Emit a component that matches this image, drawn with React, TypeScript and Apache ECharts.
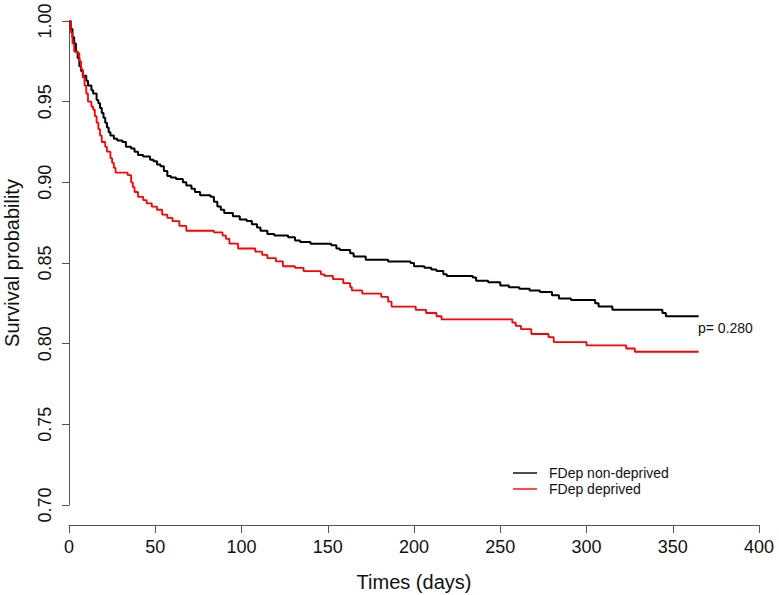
import React, { useEffect, useRef } from "react";
import * as echarts from "echarts";

// Kaplan-Meier step points (days, survival probability)
const nonDeprivedTimes = [0, 1, 2, 3, 4, 5, 6, 7, 8, 10, 11, 13, 14, 16, 17, 18, 19, 20, 21, 22, 23, 24, 26, 28, 31, 33, 36, 38, 40, 43, 47, 49, 51, 53, 55, 57, 59, 62, 66, 68, 71, 73, 76, 82, 84, 86, 88, 90, 95, 99, 103, 106, 109, 111, 115, 119, 127, 131, 134, 140, 152, 155, 157, 163, 165, 172, 185, 198, 200, 206, 210, 213, 217, 219, 234, 236, 243, 250, 255, 261, 267, 273, 280, 284, 291, 305, 307, 315, 344, 346, 365];
const nonDeprivedSurv = [1.0, 0.995, 0.99, 0.986, 0.981, 0.977, 0.972, 0.969, 0.966, 0.963, 0.96, 0.957, 0.955, 0.951, 0.949, 0.946, 0.943, 0.94, 0.937, 0.934, 0.931, 0.929, 0.927, 0.926, 0.925, 0.922, 0.921, 0.919, 0.917, 0.916, 0.914, 0.913, 0.911, 0.91, 0.907, 0.904, 0.903, 0.902, 0.9, 0.898, 0.896, 0.894, 0.892, 0.891, 0.888, 0.885, 0.883, 0.881, 0.879, 0.877, 0.876, 0.874, 0.872, 0.87, 0.868, 0.867, 0.866, 0.864, 0.863, 0.862, 0.861, 0.859, 0.858, 0.856, 0.854, 0.852, 0.851, 0.85, 0.848, 0.847, 0.846, 0.845, 0.843, 0.842, 0.841, 0.839, 0.838, 0.836, 0.835, 0.834, 0.833, 0.832, 0.83, 0.828, 0.827, 0.825, 0.823, 0.821, 0.819, 0.817, 0.817];

const deprivedTimes = [0, 1, 2, 3, 5, 6, 7, 8, 9, 10, 11, 13, 14, 15, 16, 17, 18, 19, 21, 22, 24, 25, 26, 27, 34, 36, 37, 38, 40, 43, 45, 48, 51, 54, 57, 60, 64, 68, 84, 89, 91, 93, 98, 108, 112, 115, 120, 124, 131, 136, 146, 148, 153, 159, 163, 164, 170, 181, 185, 187, 201, 207, 213, 216, 257, 259, 262, 268, 278, 281, 300, 323, 328, 365];
const deprivedSurv = [1.0, 0.993, 0.986, 0.981, 0.98, 0.975, 0.97, 0.965, 0.96, 0.955, 0.95, 0.947, 0.945, 0.941, 0.937, 0.933, 0.929, 0.925, 0.922, 0.919, 0.915, 0.912, 0.909, 0.906, 0.9045, 0.9, 0.897, 0.894, 0.891, 0.889, 0.887, 0.885, 0.883, 0.88, 0.878, 0.876, 0.873, 0.87, 0.869, 0.867, 0.865, 0.862, 0.859, 0.857, 0.855, 0.853, 0.851, 0.848, 0.847, 0.845, 0.843, 0.842, 0.84, 0.8375, 0.835, 0.833, 0.831, 0.829, 0.826, 0.823, 0.821, 0.819, 0.817, 0.815, 0.813, 0.811, 0.809, 0.806, 0.804, 0.801, 0.799, 0.797, 0.795, 0.795];

const seriesNames = ["FDep non-deprived", "FDep deprived"];
const xTicks = { min: 0, max: 400, interval: 50 };
const yTicks = { min: 0.7, max: 1.0, interval: 0.05 };
const pValueText = "p= 0.280";
const xTitle = "Times (days)";
const yTitle = "Survival probability";

const FONT = "'Liberation Sans', Arial, Helvetica, sans-serif";

export default function App() {
  const ref = useRef<HTMLDivElement>(null);
  useEffect(() => {
    if (!ref.current) return;
    const chart = echarts.init(ref.current, null, { renderer: "svg" });
    const zip = (t: number[], s: number[]) => t.map((v, i) => [v, s[i]]);
    const axisCol = "#555";
    chart.setOption({
      animation: false,
      backgroundColor: "#fff",
      textStyle: { fontFamily: FONT },
      grid: {
        left: 69,
        right: 20,
        top: 21,
        bottom: 90,
        containLabel: false,
        outerBoundsMode: "none",
      },
      xAxis: {
        type: "value",
        min: xTicks.min,
        max: xTicks.max,
        interval: xTicks.interval,
        offset: 20,
        splitLine: { show: false },
        axisLine: { show: true, lineStyle: { color: axisCol, width: 1 } },
        axisTick: { show: true, inside: false, length: 8, lineStyle: { color: axisCol } },
        axisLabel: { color: "#111", fontSize: 18, fontFamily: FONT, margin: 13 },
        name: xTitle,
        nameLocation: "middle",
        nameGap: 47,
        nameTextStyle: { color: "#111", fontSize: 20, fontFamily: FONT },
      },
      yAxis: {
        type: "value",
        min: yTicks.min,
        max: yTicks.max,
        interval: yTicks.interval,
        splitLine: { show: false },
        axisLine: { show: true, lineStyle: { color: axisCol, width: 1 } },
        axisTick: { show: true, inside: false, length: 7, lineStyle: { color: axisCol } },
        axisLabel: {
          color: "#111",
          fontSize: 18,
          fontFamily: FONT,
          rotate: 90,
          margin: 15,
          formatter: (v: number) => v.toFixed(2),
        },
        name: yTitle,
        nameLocation: "middle",
        nameRotate: 90,
        nameGap: 47,
        nameTextStyle: { color: "#111", fontSize: 20, fontFamily: FONT },
      },
      legend: {
        orient: "vertical",
        left: 513,
        top: 466,
        padding: 0,
        itemGap: 2,
        itemWidth: 24,
        itemHeight: 14,
        icon: "path://M0,6.3 L24,6.3 L24,7.7 L0,7.7 Z",
        textStyle: { fontSize: 14, color: "#111", fontFamily: FONT, padding: [0, 0, 0, 7] },
        data: seriesNames,
      },
      graphic: [
        {
          type: "text",
          left: 698,
          top: 321,
          style: { text: pValueText, fontSize: 14, fill: "#111", fontFamily: FONT },
        },
      ],
      series: [
        {
          name: seriesNames[0],
          type: "line",
          step: "end",
          showSymbol: false,
          symbol: "none",
          clip: false,
          lineStyle: { color: "#000", width: 2 },
          itemStyle: { color: "#000" },
          data: zip(nonDeprivedTimes, nonDeprivedSurv),
        },
        {
          name: seriesNames[1],
          type: "line",
          step: "end",
          showSymbol: false,
          symbol: "none",
          clip: false,
          lineStyle: { color: "#ff0000", width: 1.8 },
          itemStyle: { color: "#ff0000" },
          data: zip(deprivedTimes, deprivedSurv),
        },
      ],
    });
    return () => chart.dispose();
  }, []);
  return (
    <div
      ref={ref}
      style={{ position: "fixed", left: 0, top: 0, width: 779, height: 595, background: "#fff" }}
    />
  );
}
